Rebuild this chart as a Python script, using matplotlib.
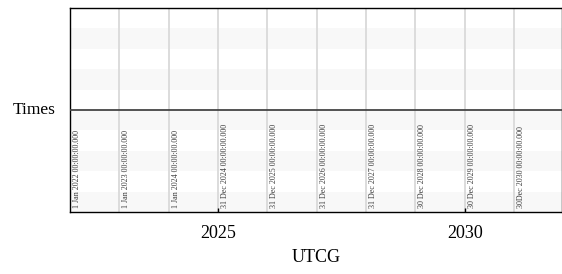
import matplotlib
matplotlib.use('Agg')
import matplotlib.pyplot as plt
import matplotlib.dates as mdates
import matplotlib.transforms as mtransforms
from datetime import datetime

# event times shown on the timeline
event_dates = [datetime(2022, 1, 1), datetime(2023, 1, 1), datetime(2024, 1, 1),
               datetime(2024, 12, 31), datetime(2025, 12, 31), datetime(2026, 12, 31),
               datetime(2027, 12, 31), datetime(2028, 12, 30), datetime(2029, 12, 30),
               datetime(2030, 12, 30)]
event_labels = ['1 Jan 2022 00:00:00.000', '1 Jan 2023 00:00:00.000',
                '1 Jan 2024 00:00:00.000', '31 Dec 2024 00:00:00.000',
                '31 Dec 2025 00:00:00.000', '31 Dec 2026 00:00:00.000',
                '31 Dec 2027 00:00:00.000', '30 Dec 2028 00:00:00.000',
                '30 Dec 2029 00:00:00.000', '30Dec 2030 00:00:00.000']
time_range = [datetime(2022, 1, 1), datetime(2031, 12, 15)]
year_ticks = [datetime(2025, 1, 1), datetime(2030, 1, 1)]
year_labels = ['2025', '2030']
row_name = 'Times'
x_title = 'UTCG'

plt.rcParams['font.family'] = ['Liberation Serif', 'DejaVu Serif']

fig = plt.figure(figsize=(5.62, 2.74), dpi=100)
ax = fig.add_axes([70/562, 62/274, 491.5/562, 204/274])

# faint alternating stripes (10 rows, odd rows grey)
nrows = 10
for i in range(nrows):
    if i % 2 == 1:
        ax.axhspan(1 - (i + 1)/nrows, 1 - i/nrows, color='#f8f8f8', lw=0, zorder=0)

# divider between the row header and the event area
ax.axhline(0.5, color='#454545', lw=1.3, zorder=3)

# event gridlines and labels
offset = mtransforms.offset_copy(ax.transData, fig=fig, x=3, y=4, units='dots')
for d, lab in zip(event_dates, event_labels):
    ax.axvline(d, color='#d9d9d9', lw=1.3, zorder=1)
    ax.text(mdates.date2num(d), 0, lab, transform=offset, rotation=90,
            ha='left', va='bottom', fontsize=5.8, color='#3a3a3a', zorder=2)

ax.set_xlim(time_range)
ax.set_ylim(0, 1)
ax.set_yticks([])
ax.set_xticks(year_ticks)
ax.set_xticklabels(year_labels)
ax.tick_params(axis='x', direction='in', length=3, width=1, pad=9.5, labelsize=13)
ax.set_xlabel(x_title, fontsize=13, labelpad=5)

ax.text(-0.03, 0.5, row_name, transform=ax.transAxes, ha='right', va='center',
        fontsize=12.5)

for s in ax.spines.values():
    s.set_color('black')
    s.set_linewidth(1.0)

fig.savefig('out.png', dpi=100)
